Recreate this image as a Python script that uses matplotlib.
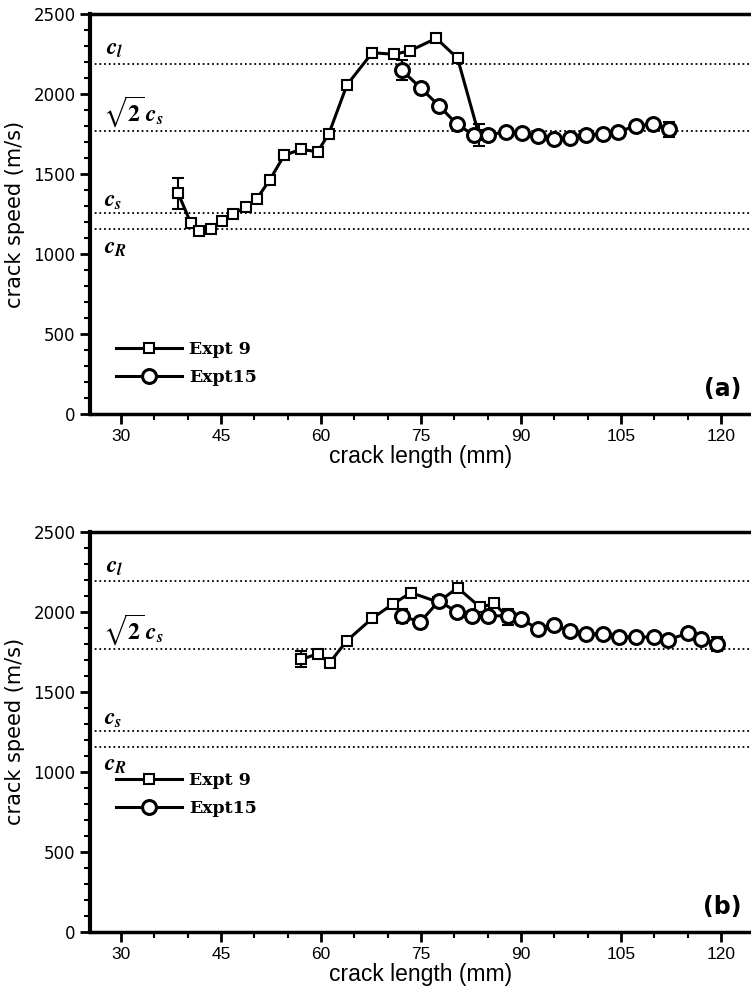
import matplotlib
matplotlib.use("Agg")
import matplotlib.pyplot as plt
from matplotlib.lines import Line2D
from matplotlib.ticker import MultipleLocator

plt.rcParams['mathtext.fontset'] = 'stix'

# reference speeds (m/s)
c_l = 2190
c_s2 = 1770
c_s = 1255
c_R = 1155

# panel (a)
x9_a = [38.6, 40.5, 41.7, 43.5, 45.1, 46.8, 48.7, 50.4, 52.3, 54.5, 57.0, 59.5,
        61.2, 63.9, 67.7, 71.0, 73.4, 77.3, 80.5, 83.7]
v9_a = [1379, 1192, 1146, 1158, 1204, 1250, 1292, 1346, 1461, 1617, 1654, 1639,
        1752, 2056, 2258, 2248, 2271, 2348, 2223, 1744]
e9_a = {0: 95, 19: 70}

x15_a = [72.1, 75.0, 77.7, 80.4, 82.9, 85.0, 87.8, 90.1, 92.5, 95.0, 97.3, 99.8,
         102.3, 104.6, 107.2, 109.8, 112.2]
v15_a = [2150, 2036, 1927, 1811, 1744, 1744, 1764, 1756, 1740, 1719, 1723, 1744,
         1752, 1764, 1800, 1812, 1779]
e15_a = {0: 60, 16: 45}

# panel (b)
x9_b = [57.0, 59.5, 61.3, 63.9, 67.7, 70.8, 73.5, 77.6, 80.5, 83.9, 86.0, 88.0]
v9_b = [1702, 1736, 1681, 1819, 1959, 2048, 2119, 2060, 2150, 2027, 2052, 1965]
e9_b = {0: 50, 11: 45}

x15_b = [72.1, 74.9, 77.7, 80.4, 82.7, 85.0, 88.0, 90.0, 92.5, 95.0, 97.4, 99.8,
         102.3, 104.7, 107.2, 109.9, 112.1, 115.0, 117.0, 119.4]
v15_b = [1973, 1936, 2067, 1998, 1973, 1973, 1975, 1954, 1894, 1919, 1879, 1861,
         1863, 1842, 1842, 1842, 1825, 1865, 1828, 1798]
e15_b = {0: 45, 6: 40, 19: 45}

labels = ["Expt 9", "Expt15"]
xticks = [30, 45, 60, 75, 90, 105, 120]

fig = plt.figure(figsize=(7.51, 9.92), dpi=100)
ax_a = fig.add_axes([0.1192, 0.5827, 0.8808, 0.4032])
ax_b = fig.add_axes([0.1192, 0.0608, 0.8808, 0.4032])

sq = dict(marker='s', ms=7.5, mfc='white', mec='black', mew=1.5, color='black', lw=2.2)
ci = dict(marker='o', ms=10, mfc='white', mec='black', mew=2.2, color='black', lw=2.2)


def draw_err(ax, xs, vs, errs, z):
    idx = sorted(errs)
    ax.errorbar([xs[i] for i in idx], [vs[i] for i in idx], yerr=[errs[i] for i in idx],
                fmt='none', ecolor='black', elinewidth=1.5, capsize=4, capthick=1.5, zorder=z)


def setup(ax, tag, legend_y, x9, v9, e9, x15, v15, e15):
    for v in [c_l, c_s2, c_s, c_R]:
        ax.axhline(v, color='black', lw=1.3, ls=(0, (1, 1.6)), zorder=1)

    draw_err(ax, x9, v9, e9, 2)
    ax.plot(x9, v9, zorder=3, **sq)
    draw_err(ax, x15, v15, e15, 4)
    ax.plot(x15, v15, zorder=5, **ci)

    ax.set_xlim(25.3, 124.5)
    ax.set_ylim(0, 2500)
    ax.xaxis.set_major_locator(MultipleLocator(15))
    ax.xaxis.set_minor_locator(MultipleLocator(5))
    ax.yaxis.set_major_locator(MultipleLocator(500))
    ax.yaxis.set_minor_locator(MultipleLocator(100))
    ax.set_xticks(xticks)

    ax.spines['right'].set_visible(False)
    ax.spines['left'].set_linewidth(3)
    ax.spines['top'].set_linewidth(2.5)
    ax.spines['bottom'].set_linewidth(2.5)
    ax.tick_params(which='major', direction='out', length=7, width=2, pad=3)
    ax.tick_params(which='minor', direction='out', length=4, width=1.5)
    ax.tick_params(axis='x', which='major', pad=4)
    ax.tick_params(right=False, top=False)
    for t in ax.get_yticklabels():
        t.set_fontfamily(['DejaVu Sans'])
        t.set_fontsize(12)
    for t in ax.get_xticklabels():
        t.set_fontfamily(['Liberation Sans', 'DejaVu Sans'])
        t.set_fontsize(12.5)

    ax.set_ylabel("crack speed (m/s)", fontsize=15, family=['DejaVu Sans'])
    ax.yaxis.set_label_coords(-0.097, 0.5)
    ax.set_xlabel("crack length (mm)", fontsize=16.5, family=['Liberation Sans', 'DejaVu Sans'],
                  va='top')
    ax.xaxis.set_label_coords(0.5, -0.078)

    # reference speed labels
    ax.text(27.7, c_l + 22, r'$\mathbfit{c_l}$', fontsize=17, va='bottom', ha='left')
    ax.text(27.3, c_s2 + 10, r'$\mathbf{\sqrt{2}}\,\mathbfit{c_s}$', fontsize=17,
            va='bottom', ha='left')
    ax.text(27.5, c_s + 8, r'$\mathbfit{c_s}$', fontsize=17, va='bottom', ha='left')
    ax.text(27.5, c_R - 35, r'$\mathbfit{c_R}$', fontsize=17, va='top', ha='left')

    ax.text(0.986, 0.045, tag, transform=ax.transAxes, ha='right', va='baseline',
            fontsize=17, fontweight='bold', family=['DejaVu Sans'])

    handles = [Line2D([], [], **sq), Line2D([], [], **ci)]
    ax.legend(handles, labels, loc='center left', bbox_to_anchor=(0.04, legend_y),
              frameon=False, borderpad=0, borderaxespad=0, handlelength=3.8,
              handletextpad=0.4, labelspacing=0.6, numpoints=1,
              prop={'family': 'DejaVu Serif', 'weight': 'bold', 'size': 12.5})


setup(ax_a, "(a)", 0.126, x9_a, v9_a, e9_a, x15_a, v15_a, e15_a)
setup(ax_b, "(b)", 0.343, x9_b, v9_b, e9_b, x15_b, v15_b, e15_b)

fig.savefig("out.png", dpi=100)
